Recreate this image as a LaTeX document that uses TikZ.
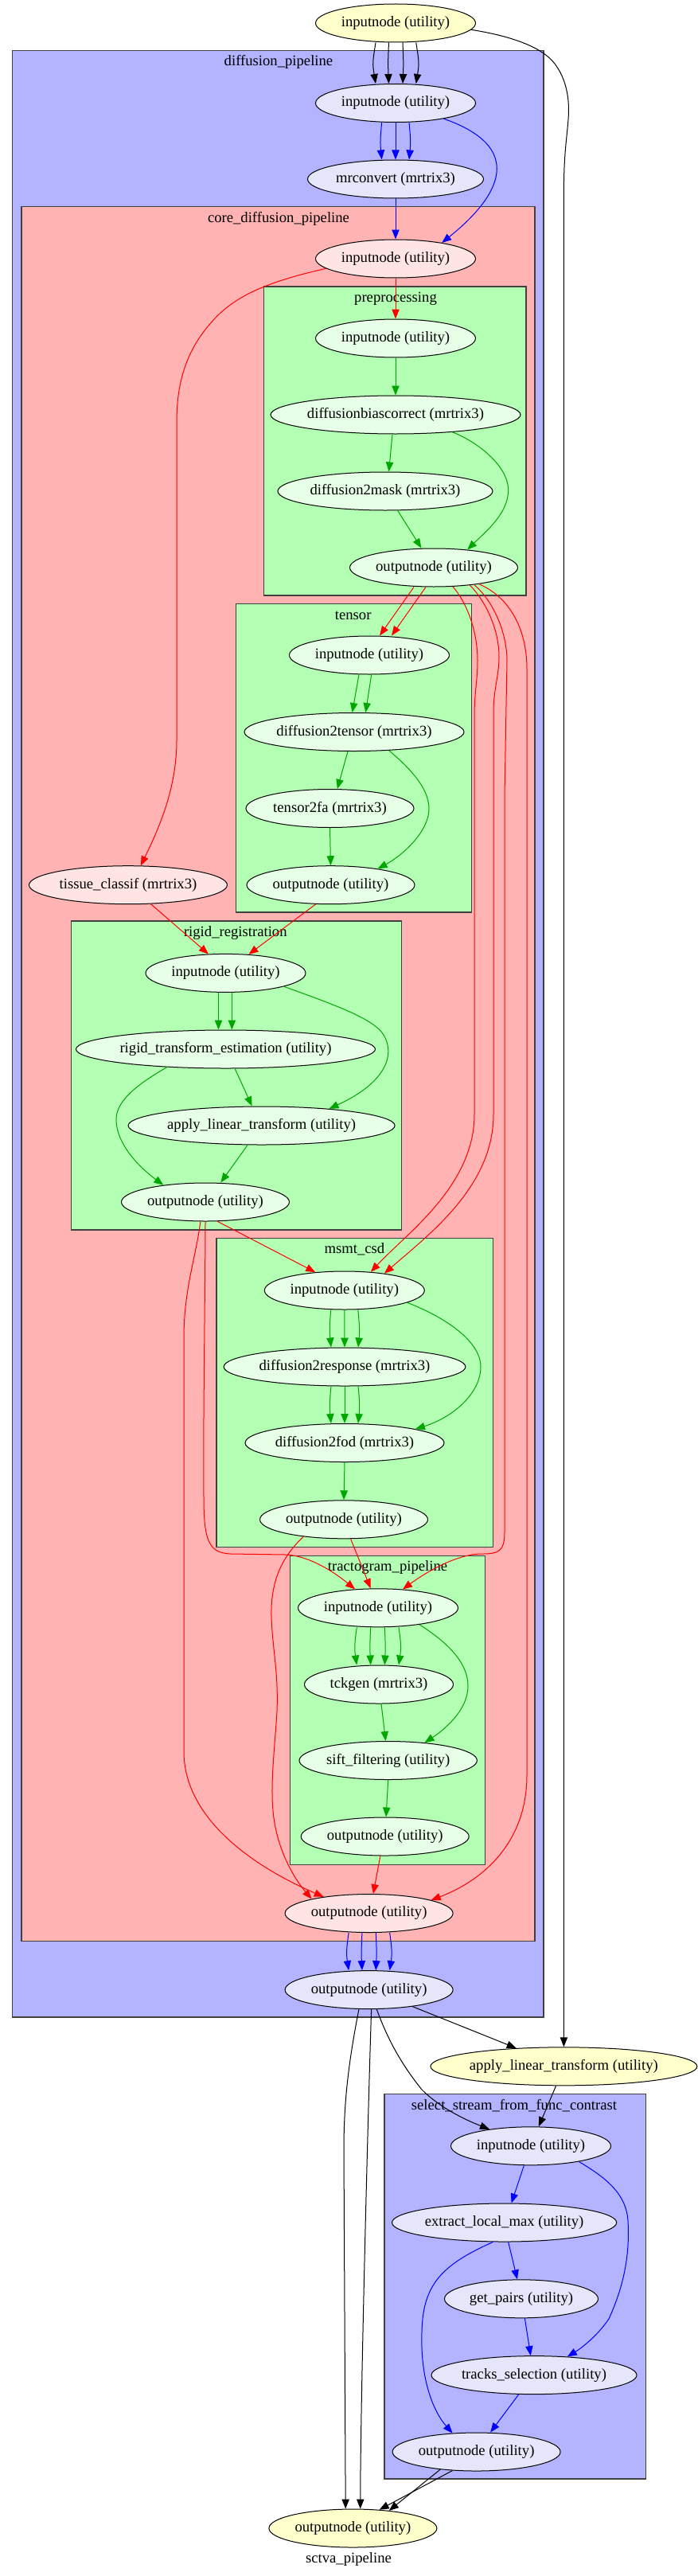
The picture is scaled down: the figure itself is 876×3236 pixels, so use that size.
\documentclass[tikz,border=0pt]{standalone}
\usepackage{fontspec}
\setmainfont{Liberation Serif}
\usetikzlibrary{shapes.geometric,arrows.meta}

\definecolor{boxblue}{HTML}{B3B3FF}
\definecolor{boxpink}{HTML}{FFB3B3}
\definecolor{boxgreen}{HTML}{B3FFB3}
\definecolor{nodelav}{HTML}{E6E6FA}
\definecolor{nodepink}{HTML}{FFE4E4}
\definecolor{nodegreen}{HTML}{E6FFE6}
\definecolor{nodeyellow}{HTML}{FFFFCC}
\definecolor{greenline}{RGB}{0,165,0}

\tikzset{
  wfnode/.style={ellipse, draw=black, line width=0.75pt, inner sep=0pt, minimum height=36pt, font=\fontsize{14}{16}\selectfont},
  ynode/.style={wfnode, fill=nodeyellow},
  bnode/.style={wfnode, fill=nodelav},
  pnode/.style={wfnode, fill=nodepink},
  gnode/.style={wfnode, fill=nodegreen},
  cluster/.style={draw=black!75, line width=1pt},
  clusterlabel/.style={inner sep=0pt, font=\fontsize{14}{16}\selectfont},
  edgeblack/.style={-{Triangle[length=9pt,width=7pt]}, line width=0.75pt, draw=black},
  edgeblue/.style={-{Triangle[length=9pt,width=7pt]}, line width=0.75pt, draw=blue},
  edgered/.style={-{Triangle[length=9pt,width=7pt]}, line width=0.75pt, draw=red},
  edgegreen/.style={-{Triangle[length=9pt,width=7pt]}, line width=0.75pt, draw=greenline},
}

\begin{document}
\begin{tikzpicture}[x=0.75pt, y=-0.75pt]
  \useasboundingbox (0,0) rectangle (876,3236);

  \draw[cluster, fill=boxblue] (15.7,63.3) rectangle (683,2534);
  \node[clusterlabel] (dp-label) at (350,78) {diffusion\_pipeline};
  \draw[cluster, fill=boxpink] (26.9,259.3) rectangle (672,2438.4);
  \node[clusterlabel] (core-label) at (350,275) {core\_diffusion\_pipeline};
  \draw[cluster, fill=boxgreen] (331.7,360) rectangle (661,748);
  \node[clusterlabel] (pp-label) at (497,375) {preprocessing};
  \draw[cluster, fill=boxgreen] (296.4,758.5) rectangle (592.5,1146);
  \node[clusterlabel] (ten-label) at (443.7,773.5) {tensor};
  \draw[cluster, fill=boxgreen] (89.6,1157) rectangle (504.2,1545);
  \node[clusterlabel] (rr-label) at (295.8,1172) {rigid\_registration};
  \draw[cluster, fill=boxgreen] (272,1555.6) rectangle (619.5,1943.5);
  \node[clusterlabel] (ms-label) at (445.4,1569.4) {msmt\_csd};
  \draw[cluster, fill=boxgreen] (364.5,1954.2) rectangle (609.5,2342.4);
  \node[clusterlabel] (tr-label) at (487,1969.5) {tractogram\_pipeline};
  \draw[cluster, fill=boxblue] (483,2630.5) rectangle (811.2,3114);
  \node[clusterlabel] (ss-label) at (646,2645.5) {select\_stream\_from\_func\_contrast};
  \node[clusterlabel] (main-label) at (438,3214.6) {sctva\_pipeline};

  \node[ynode, minimum width=150.75pt] (top-in) at (497,29) {inputnode (utility)};
  \node[bnode, minimum width=150.75pt] (dp-in) at (497,129.5) {inputnode (utility)};
  \node[bnode, minimum width=165.75pt] (mrconv) at (497,225) {mrconvert (mrtrix3)};
  \node[pnode, minimum width=150.75pt] (core-in) at (497,325) {inputnode (utility)};
  \node[gnode, minimum width=150.75pt] (pp-in) at (497,425) {inputnode (utility)};
  \node[gnode, minimum width=233.25pt] (pp-bias) at (497,521) {diffusionbiascorrect (mrtrix3)};
  \node[gnode, minimum width=202.5pt] (pp-mask) at (484,617) {diffusion2mask (mrtrix3)};
  \node[gnode, minimum width=158.25pt] (pp-out) at (545,713) {outputnode (utility)};
  \node[gnode, minimum width=150.75pt] (ten-in) at (464,823) {inputnode (utility)};
  \node[gnode, minimum width=207pt] (ten-d2t) at (445,919.5) {diffusion2tensor (mrtrix3)};
  \node[gnode, minimum width=158.25pt] (ten-fa) at (414.5,1015.5) {tensor2fa (mrtrix3)};
  \node[gnode, minimum width=158.25pt] (ten-out) at (415.5,1111.7) {outputnode (utility)};
  \node[pnode, minimum width=186.75pt] (tissue) at (161,1111.7) {tissue\_classif (mrtrix3)};
  \node[gnode, minimum width=150.75pt] (rr-in) at (283.5,1222.4) {inputnode (utility)};
  \node[gnode, minimum width=275.6pt] (rr-est) at (283.5,1318) {rigid\_transform\_estimation (utility)};
  \node[gnode, minimum width=246.75pt] (rr-apply) at (328.6,1414) {apply\_linear\_transform (utility)};
  \node[gnode, minimum width=158.25pt] (rr-out) at (258,1510) {outputnode (utility)};
  \node[gnode, minimum width=150.75pt] (ms-in) at (432.8,1621) {inputnode (utility)};
  \node[gnode, minimum width=225pt] (ms-resp) at (433,1717) {diffusion2response (mrtrix3)};
  \node[gnode, minimum width=187.5pt] (ms-fod) at (433,1812.5) {diffusion2fod (mrtrix3)};
  \node[gnode, minimum width=158.25pt] (ms-out) at (432,1908.8) {outputnode (utility)};
  \node[gnode, minimum width=150.75pt] (tr-in) at (475,2019.8) {inputnode (utility)};
  \node[gnode, minimum width=140.25pt] (tr-tck) at (476,2116) {tckgen (mrtrix3)};
  \node[gnode, minimum width=167.6pt] (tr-sift) at (487.7,2211.5) {sift\_filtering (utility)};
  \node[gnode, minimum width=158.25pt] (tr-out) at (483.7,2307) {outputnode (utility)};
  \node[pnode, minimum width=158.25pt] (core-out) at (463.6,2403.5) {outputnode (utility)};
  \node[bnode, minimum width=158.25pt] (dp-out) at (463.6,2499.6) {outputnode (utility)};
  \node[ynode, minimum width=246pt] (alt) at (708.4,2595.8) {apply\_linear\_transform (utility)};
  \node[bnode, minimum width=150.75pt] (ss-in) at (667,2695.8) {inputnode (utility)};
  \node[bnode, minimum width=210.75pt] (ss-elm) at (633.6,2792) {extract\_local\_max (utility)};
  \node[bnode, minimum width=144.75pt] (ss-pairs) at (655,2887.8) {get\_pairs (utility)};
  \node[bnode, minimum width=193.5pt] (ss-tracks) at (671,2983.6) {tracks\_selection (utility)};
  \node[bnode, minimum width=158.25pt] (ss-out) at (598.6,3080) {outputnode (utility)};
  \node[ynode, minimum width=158.25pt] (final) at (443.4,3176) {outputnode (utility)};

  \draw[edgeblack] ([xshift=-18.75pt]top-in.south) .. controls +(-4,25) and +(-4,-25) .. ([xshift=-18.75pt]dp-in.north);
  \draw[edgeblack] ([xshift=-6.4pt]top-in.south) .. controls +(-1,25) and +(-1,-25) .. ([xshift=-6.4pt]dp-in.north);
  \draw[edgeblack] ([xshift=6.75pt]top-in.south) .. controls +(1,25) and +(1,-25) .. ([xshift=6.75pt]dp-in.north);
  \draw[edgeblack] ([xshift=19.3pt]top-in.south) .. controls +(4,25) and +(4,-25) .. ([xshift=19.3pt]dp-in.north);
  \draw[edgeblack] (top-in.-5) .. controls (640,45) and (680,58) .. (697,80) .. controls (712,100) and (716,125) .. (714,150) .. controls (712,175) and (708.4,195) .. (708.4,240) -- (alt.north);

  \draw[edgeblue] ([xshift=-13pt]dp-in.south) .. controls +(-2,20) and +(-2,-20) .. ([xshift=-13pt]mrconv.north);
  \draw[edgeblue] (dp-in.south) -- (mrconv.north);
  \draw[edgeblue] ([xshift=12.75pt]dp-in.south) .. controls +(2,20) and +(2,-20) .. ([xshift=12.75pt]mrconv.north);
  \draw[edgeblue] (dp-in.-18) .. controls (660,185) and (630,245) .. (core-in.19);
  \draw[edgeblue] (mrconv.south) -- (core-in.north);

  \draw[edgered] (core-in.south) -- (pp-in.north);
  \draw[edgered] (core-in.-172) .. controls (345,352) and (300,368) .. (270,400) .. controls (240,432) and (222,470) .. (222,530) -- (222,930) .. controls (222,990) and (200,1040) .. (tissue.57);

  \draw[edgegreen] (pp-in.south) -- (pp-bias.north);
  \draw[edgegreen] ([xshift=-3pt]pp-bias.south) -- ([xshift=3.4pt]pp-mask.north);
  \draw[edgegreen] (pp-bias.-17) .. controls (600,555) and (638,585) .. (638.7,615) .. controls (639,645) and (610,668) .. (pp-out.28);
  \draw[edgegreen] ([xshift=11.8pt]pp-mask.south) -- ([xshift=-11.7pt]pp-out.north);

  \draw[edgered] ([xshift=-18.75pt]pp-out.south) -- ([xshift=9.75pt]ten-in.north);
  \draw[edgered] ([xshift=-7.5pt]pp-out.south) -- ([xshift=21pt]ten-in.north);
  \draw[edgered] (pp-out.-45) .. controls (585,755) and (600,790) .. (600,830) .. controls (600,855) and (596,870) .. (596,900) -- (596,1400) .. controls (596,1490) and (510,1550) .. (ms-in.35);
  \draw[edgered] (pp-out.-26) .. controls (610,755) and (627,790) .. (627,825) .. controls (627,850) and (620,865) .. (620,895) -- (620,1400) .. controls (620,1490) and (540,1550) .. (ms-in.23);
  \draw[edgered] (pp-out.-23) .. controls (620,755) and (637,795) .. (637,830) -- (634,1000) -- (634,1925) .. controls (634,1950) and (625,1952) .. (605,1952) .. controls (580,1952) and (545,1968) .. (tr-in.37);
  \draw[edgered] (pp-out.-20) .. controls (640,750) and (662,790) .. (662,840) -- (662,2230) .. controls (662,2320) and (600,2365) .. (core-out.12);

  \draw[edgegreen] ([xshift=-9.75pt]ten-in.south) -- ([xshift=-1.8pt]ten-d2t.north);
  \draw[edgegreen] ([xshift=2pt]ten-in.south) -- ([xshift=10.8pt]ten-d2t.north);
  \draw[edgegreen] ([xshift=-6pt]ten-d2t.south) -- ([xshift=7pt]ten-fa.north);
  \draw[edgegreen] (ten-d2t.-28) .. controls (515,965) and (539,990) .. (539,1016) .. controls (539,1045) and (505,1075) .. (ten-out.19);
  \draw[edgegreen] (ten-fa.south) -- (ten-out.north);

  \draw[edgered] (ten-out.-128) -- (rr-in.39);
  \draw[edgered] (tissue.-40) -- (rr-in.132);

  \draw[edgegreen] ([xshift=-6.75pt]rr-in.south) -- ([xshift=-6.75pt]rr-est.north);
  \draw[edgegreen] ([xshift=5.9pt]rr-in.south) -- ([xshift=5.9pt]rr-est.north);
  \draw[edgegreen] (rr-in.-13) .. controls (420,1262) and (470,1280) .. (482,1300) .. controls (497,1325) and (485,1360) .. (rr-apply.14);
  \draw[edgegreen] ([xshift=8.8pt]rr-est.south) -- ([xshift=-9pt]rr-apply.north);
  \draw[edgegreen] (rr-est.-163) .. controls (180,1358) and (146,1380) .. (146,1406) .. controls (146,1440) and (180,1470) .. (rr-out.158);
  \draw[edgegreen] ([xshift=-13.2pt]rr-apply.south) -- ([xshift=14.5pt]rr-out.north);

  \draw[edgered] (rr-out.-58) -- (ms-in.148);
  \draw[edgered] (rr-out.south) .. controls (258,1600) and (255,1800) .. (256,1880) .. controls (256,1935) and (262,1951) .. (290,1952) -- (360,1953) .. controls (390,1955) and (420,1975) .. (tr-in.141);
  \draw[edgered] (rr-out.-104) .. controls (246,1580) and (231,1620) .. (231,1680) -- (231,2200) .. controls (231,2290) and (330,2350) .. (core-out.160);

  \draw[edgegreen] ([xshift=-12.75pt]ms-in.south) .. controls +(-2,20) and +(-2,-20) .. ([xshift=-12.75pt]ms-resp.north);
  \draw[edgegreen] (ms-in.south) -- (ms-resp.north);
  \draw[edgegreen] ([xshift=12.75pt]ms-in.south) .. controls +(2,20) and +(2,-20) .. ([xshift=12.75pt]ms-resp.north);
  \draw[edgegreen] ([xshift=-12.75pt]ms-resp.south) .. controls +(-2,20) and +(-2,-20) .. ([xshift=-12.75pt]ms-fod.north);
  \draw[edgegreen] (ms-resp.south) -- (ms-fod.north);
  \draw[edgegreen] ([xshift=12.75pt]ms-resp.south) .. controls +(2,20) and +(2,-20) .. ([xshift=12.75pt]ms-fod.north);
  \draw[edgegreen] (ms-in.-11) .. controls (560,1655) and (604,1685) .. (604,1717) .. controls (604,1750) and (570,1780) .. (ms-fod.11);
  \draw[edgegreen] (ms-fod.south) -- (ms-out.north);

  \draw[edgered] ([xshift=6.5pt]ms-out.south) -- ([xshift=-7pt]tr-in.north);
  \draw[edgered] (ms-out.-157) .. controls (355,1955) and (340,1985) .. (341,2030) .. controls (342,2070) and (350,2100) .. (348,2150) .. controls (345,2200) and (338,2250) .. (345,2290) .. controls (352,2330) and (370,2360) .. (core-out.166);

  \draw[edgegreen] ([xshift=-20pt]tr-in.south) .. controls +(-3,20) and +(-3,-20) .. ([xshift=-20.8pt]tr-tck.north);
  \draw[edgegreen] ([xshift=-7pt]tr-in.south) .. controls +(-1,20) and +(-1,-20) .. ([xshift=-7.7pt]tr-tck.north);
  \draw[edgegreen] ([xshift=6.2pt]tr-in.south) .. controls +(1,20) and +(1,-20) .. ([xshift=5.5pt]tr-tck.north);
  \draw[edgegreen] ([xshift=19.5pt]tr-in.south) .. controls +(3,20) and +(3,-20) .. ([xshift=18.75pt]tr-tck.north);
  \draw[edgegreen] (tr-in.-22) .. controls (565,2065) and (588,2090) .. (588,2118) .. controls (588,2150) and (555,2175) .. (tr-sift.26);
  \draw[edgegreen] ([xshift=2.25pt]tr-tck.south) -- ([xshift=-2.3pt]tr-sift.north);
  \draw[edgegreen] (tr-sift.south) -- ([xshift=1pt]tr-out.north);
  \draw[edgered] ([xshift=-4.4pt]tr-out.south) -- ([xshift=4pt]core-out.north);

  \draw[edgeblue] ([xshift=-19.1pt]core-out.south) .. controls +(-3,20) and +(-3,-20) .. ([xshift=-19.1pt]dp-out.north);
  \draw[edgeblue] ([xshift=-6.5pt]core-out.south) .. controls +(-1,20) and +(-1,-20) .. ([xshift=-6.5pt]dp-out.north);
  \draw[edgeblue] ([xshift=6.5pt]core-out.south) .. controls +(1,20) and +(1,-20) .. ([xshift=6.5pt]dp-out.north);
  \draw[edgeblue] ([xshift=19.5pt]core-out.south) .. controls +(3,20) and +(3,-20) .. ([xshift=19.5pt]dp-out.north);

  \draw[edgeblack] (dp-out.-21) -- (alt.159);
  \draw[edgeblack] ([xshift=7.3pt]dp-out.south) .. controls (490,2570) and (510,2600) .. (530,2625) .. controls (555,2650) and (590,2665) .. (ss-in.158);
  \draw[edgeblack] ([xshift=-9.5pt]dp-out.south) .. controls (438,2590) and (432,2640) .. (432,2700) -- ([xshift=-6.9pt]final.north);
  \draw[edgeblack] ([xshift=2.3pt]dp-out.south) .. controls (464,2600) and (453,3000) .. ([xshift=7pt]final.north);
  \draw[edgeblack] ([xshift=-7.4pt]alt.south) -- ([xshift=7.4pt]ss-in.north);

  \draw[edgeblue] ([xshift=-6.5pt]ss-in.south) -- ([xshift=6.75pt]ss-elm.north);
  \draw[edgeblue] (ss-in.-18) .. controls (760,2735) and (787,2755) .. (789,2790) .. controls (792,2840) and (780,2880) .. (765,2913) .. controls (750,2935) and (730,2950) .. (ss-tracks.29);
  \draw[edgeblue] ([xshift=3.8pt]ss-elm.south) -- ([xshift=-3.8pt]ss-pairs.north);
  \draw[edgeblue] (ss-elm.-120) .. controls (555,2845) and (531,2870) .. (530,2930) .. controls (528,2990) and (545,3030) .. (ss-out.142);
  \draw[edgeblue] ([xshift=3.3pt]ss-pairs.south) -- ([xshift=-3.2pt]ss-tracks.north);
  \draw[edgeblue] ([xshift=-14.6pt]ss-tracks.south) -- ([xshift=13.2pt]ss-out.north);

  \draw[edgeblack] (ss-out.-154) -- (final.26);
  \draw[edgeblack] (ss-out.-142) -- (final.35);
\end{tikzpicture}
\end{document}
